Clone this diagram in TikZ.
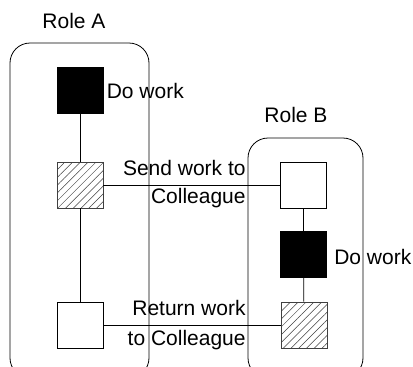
\documentclass[tikz,border=0pt]{standalone}
\usepackage{fontspec}
\setmainfont{Liberation Sans}
\usetikzlibrary{positioning, patterns.meta}

\begin{document}
\begin{tikzpicture}[x=1pt, y=-1pt, line width=0.8pt,
    task/.style={draw, minimum size=46pt, inner sep=0pt, fill=white},
    busy/.style={task, fill=black},
    handoff/.style={task, draw=black!75, pattern={Lines[angle=45, distance=5.5pt, line width=0.5pt]}, pattern color=black!75},
    txt/.style={font=\fontsize{21}{24}\selectfont, inner sep=0pt}]
    \useasboundingbox (0,0) rectangle (413,367);
    \clip (0,0) rectangle (413,367);

    % the two roles
    \node [txt, anchor=base] (roleA) at (74,28) {Role A};
    \node [txt, anchor=base] (roleB) at (296,122) {Role B};
    \draw [rounded corners=20pt] (10,43) rectangle (149,378);
    \draw [rounded corners=20pt] (248,138) rectangle (363,378);

    % role A
    \node [busy] (blkA) at (80,90.5) {};
    \node [handoff] (hatA) at (80,185) {};
    \node [task] (whtA) at (80,325) {};
    \node [txt, anchor=west, right=3pt of blkA] (doA) {Do work};

    % role B
    \node [task] (whtB) at (303.5,185) {};
    \node [busy] (blkB) at (303.5,254.5) {};
    \node [handoff] (hatB) at (304,325) {};
    \node [txt, anchor=west, right=7pt of blkB, yshift=-2pt] (doB) {Do work};

    \draw (blkA) -- (hatA);
    \draw (hatA) -- (whtA);
    \draw (whtB) -- (blkB);
    \draw (blkB) -- (hatB);

    % hand over between roles
    \draw (hatA) -- (whtB);
    \draw (whtA) -- (hatB);
    \node [txt, align=right, anchor=east, font=\fontsize{21}{28}\selectfont] (send) at (246,184) {Send work to\\Colleague};
    \node [txt, align=right, anchor=east, font=\fontsize{21}{30}\selectfont] (back) at (246,325) {Return work\\to Colleague};
\end{tikzpicture}
\end{document}
